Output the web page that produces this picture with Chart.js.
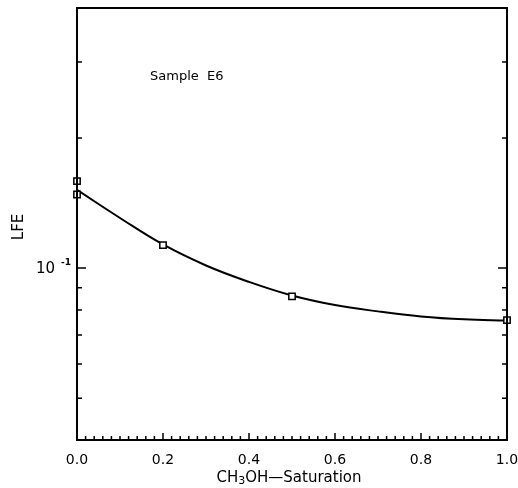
<!DOCTYPE html>
<html>
<head>
<meta charset="utf-8">
<script src="https://cdn.jsdelivr.net/npm/chart.js@4/dist/chart.umd.min.js"></script>
<style>
  html, body { margin: 0; padding: 0; background: #fff; }
  #wrap { width: 518px; height: 488px; position: relative; }
</style>
</head>
<body>
<div id="wrap"><canvas id="c" width="518" height="488"></canvas></div>
<script>
// ---- data ----
const satMeasured = [0.0, 0.0, 0.2, 0.5, 1.0];
const lfeMeasured = [0.159, 0.148, 0.113, 0.086, 0.0758];

const satFit = [0.0, 0.1, 0.2, 0.3, 0.4, 0.5, 0.6, 0.7, 0.8, 0.9, 1.0];
const lfeFit = [0.1517, 0.1306, 0.1134, 0.1014, 0.0929, 0.0864, 0.0821, 0.0794, 0.0773, 0.0761, 0.0756];

const xMajorTicks = [0.0, 0.2, 0.4, 0.6, 0.8, 1.0];
const xTickLabels = ['0.0', '0.2', '0.4', '0.6', '0.8', '1.0'];
const yMajorTicks = [0.1];
const yTickLabels = ['10'];
const yTickExponents = ['-1'];
const yMinorTicks = [0.05, 0.06, 0.07, 0.08, 0.09, 0.2, 0.3];

const xTitleParts = ['CH', '3', 'OH\u2014Saturation'];
const yTitle = 'LFE';
const annotation = 'Sample  E6';

const FONT = '"DejaVu Sans", sans-serif';

const framePlugin = {
  id: 'frame',
  afterDatasetsDraw(chart) {
    const ctx = chart.ctx;
    const a = chart.chartArea;
    const xs = chart.scales.x, ys = chart.scales.y;
    ctx.save();
    ctx.strokeStyle = '#000';
    ctx.lineWidth = 2;
    ctx.strokeRect(a.left, a.top, a.right - a.left, a.bottom - a.top);

    // x ticks (inward, bottom only)
    ctx.lineWidth = 1.5;
    ctx.beginPath();
    for (let i = 0; i <= 50; i++) {
      const v = i / 50;
      const px = xs.getPixelForValue(v);
      const isMajor = xMajorTicks.some(t => Math.abs(t - v) < 1e-9);
      const len = isMajor ? 7 : 4;
      ctx.moveTo(px, a.bottom); ctx.lineTo(px, a.bottom - len);
    }
    // y ticks (inward, left and right)
    yMajorTicks.forEach(v => {
      const py = ys.getPixelForValue(v);
      ctx.moveTo(a.left, py); ctx.lineTo(a.left + 9, py);
      ctx.moveTo(a.right, py); ctx.lineTo(a.right - 9, py);
    });
    yMinorTicks.forEach(v => {
      const py = ys.getPixelForValue(v);
      ctx.moveTo(a.left, py); ctx.lineTo(a.left + 5, py);
      ctx.moveTo(a.right, py); ctx.lineTo(a.right - 5, py);
    });
    ctx.stroke();

    // labels
    ctx.fillStyle = '#000';
    ctx.font = '14px ' + FONT;
    ctx.textAlign = 'center';
    ctx.textBaseline = 'middle';
    xMajorTicks.forEach((v, i) => {
      let px = xs.getPixelForValue(v);
      ctx.fillText(xTickLabels[i], px, a.bottom + 20);
    });
    yMajorTicks.forEach((v, i) => {
      const py = ys.getPixelForValue(v);
      ctx.textAlign = 'right';
      ctx.font = '15px ' + FONT;
      ctx.fillText(yTickLabels[i], a.left - 22, py + 1);
      ctx.font = 'bold 9px ' + FONT;
      ctx.textAlign = 'left';
      ctx.fillText(yTickExponents[i], a.left - 16, py - 5);
    });

    // x title with subscript
    ctx.font = '15px ' + FONT;
    ctx.textAlign = 'left';
    const w0 = ctx.measureText(xTitleParts[0]).width;
    ctx.font = '11px ' + FONT;
    const w1 = ctx.measureText(xTitleParts[1]).width;
    ctx.font = '15px ' + FONT;
    const w2 = ctx.measureText(xTitleParts[2]).width;
    let tx = (a.left + a.right) / 2 - (w0 + w1 + w2) / 2 - 3;
    const ty = a.bottom + 38;
    ctx.fillText(xTitleParts[0], tx, ty);
    ctx.font = '11px ' + FONT;
    ctx.fillText(xTitleParts[1], tx + w0, ty + 3);
    ctx.font = '15px ' + FONT;
    ctx.fillText(xTitleParts[2], tx + w0 + w1, ty);

    // y title
    ctx.save();
    ctx.translate(19, 227);
    ctx.rotate(-Math.PI / 2);
    ctx.textAlign = 'center';
    ctx.font = '15px ' + FONT;
    ctx.fillText(yTitle, 0, 0);
    ctx.restore();

    // annotation
    ctx.font = '13px ' + FONT;
    ctx.textAlign = 'left';
    ctx.fillText(annotation, 150, 77);
    ctx.restore();
  }
};

new Chart(document.getElementById('c'), {
  type: 'scatter',
  data: {
    datasets: [
      {
        type: 'line',
        data: satFit.map((x, i) => ({ x: x, y: lfeFit[i] })),
        borderColor: '#000',
        borderWidth: 2,
        pointRadius: 0,
        fill: false,
        tension: 0.4,
        order: 2
      },
      {
        type: 'scatter',
        data: satMeasured.map((x, i) => ({ x: x, y: lfeMeasured[i] })),
        pointStyle: 'rect',
        pointRadius: 4.5,
        borderColor: '#000',
        borderWidth: 1.5,
        backgroundColor: '#fff',
        clip: false,
        order: 1
      }
    ]
  },
  options: {
    responsive: false,
    animation: false,
    events: [],
    layout: { padding: { left: 77, right: 11, top: 8, bottom: 48 } },
    plugins: { legend: { display: false }, tooltip: { enabled: false } },
    scales: {
      x: { type: 'linear', min: 0, max: 1, display: false },
      y: { type: 'logarithmic', min: 0.04, max: 0.4, display: false }
    }
  },
  plugins: [framePlugin]
});
</script>
</body>
</html>
